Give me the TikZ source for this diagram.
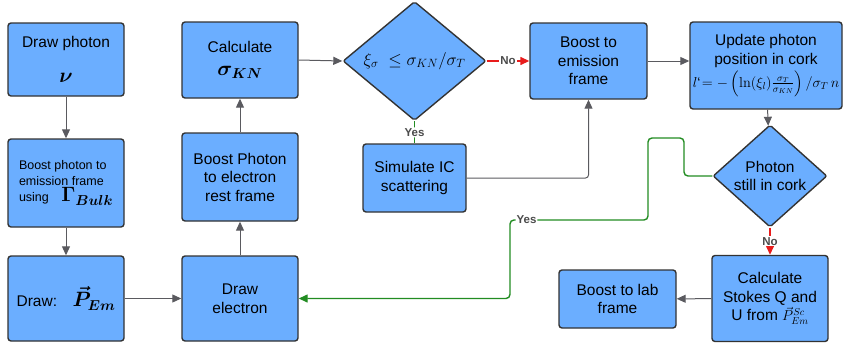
\documentclass[tikz,border=0pt]{standalone}
\usepackage{amsmath}
\usepackage[no-math]{fontspec}
\setmainfont{Liberation Sans}
\usetikzlibrary{shapes.geometric,arrows.meta}
\definecolor{boxblue}{RGB}{107,174,255}
\definecolor{linegray}{RGB}{90,90,95}
\definecolor{nored}{RGB}{232,28,28}
\definecolor{yesgreen}{RGB}{34,140,34}

\begin{document}
\begin{tikzpicture}[x=1pt,y=-1pt,
  box/.style={draw=black!80, fill=boxblue, rounded corners=3pt, line width=1.4pt,
    align=center, minimum width=116pt, inner sep=2pt,
    font=\fontsize{15.5}{18.5}\selectfont},
  decision/.style={diamond, draw=black!80, fill=boxblue, line width=1.4pt,
    align=center, inner sep=0pt, rounded corners=2pt,
    font=\fontsize{15.5}{18.5}\selectfont},
  link/.style={draw=linegray, line width=1pt, -{Triangle[length=9pt,width=8pt]}},
  nolink/.style={link, draw=nored, line width=1.4pt},
  yeslink/.style={link, draw=yesgreen, line width=1.4pt, rounded corners=4pt},
  lbl/.style={fill=white, text=black!70, inner sep=1pt,
    font=\bfseries\fontsize{11.5}{12}\selectfont}]
  \useasboundingbox (0,0) rectangle (844,343);

  % photon and electron
  \node[box, minimum height=73pt] (photon) at (66,59.5)
    {Draw photon\\[16pt]{\fontsize{22}{24}\selectfont$\boldsymbol{\nu}$}};
  \node[box, minimum height=88pt, align=left, font=\fontsize{12.5}{16}\selectfont] (bulk) at (66,183)
    {Boost photon to\\emission frame\\using\quad{\fontsize{20}{22}\selectfont$\boldsymbol{\Gamma_{Bulk}}$}};
  \node[box, minimum height=85pt] (pem) at (66,298.5)
    {Draw:\quad{\fontsize{20}{22}\selectfont$\boldsymbol{\vec{P}_{Em}}$}};
  \node[box, minimum height=76pt] (sigma) at (240,60)
    {Calculate\\[4pt]{\fontsize{21}{24}\selectfont$\boldsymbol{\sigma_{KN}}$}};
  \node[box, minimum height=88pt] (rest) at (240,177)
    {Boost Photon\\to electron\\rest frame};
  \node[box, minimum height=85pt] (electron) at (240,298.5)
    {Draw\\electron};

  % scattering test
  \node[decision, minimum width=143pt, minimum height=114pt] (test) at (414.5,61)
    {\fontsize{18}{20}\selectfont$\xi_\sigma\ \le \sigma_{KN}/\sigma_T$};
  \node[box, minimum width=103pt, minimum height=68pt] (ic) at (414.5,178)
    {Simulate IC\\scattering};
  \node[box, minimum width=117pt, minimum height=76pt] (emit) at (588.5,61)
    {Boost to\\emission\\frame};

  % propagation in the cork
  \node[box, minimum width=152pt, minimum height=87pt] (update) at (766,65.5)
    {Update photon\\position in cork\\[2pt]
     {\fontsize{14}{16}\selectfont$l\mbox{`}\!=-\left(\ln(\xi_l)\frac{\sigma_T}{\sigma_{KN}}\right)/\sigma_T\, n$}};
  \node[decision, minimum width=114pt, minimum height=85pt] (cork) at (770,176)
    {Photon\\still in cork};
  \node[box, minimum height=86pt] (stokes) at (770,298.5)
    {Calculate\\Stokes Q and\\U from {\fontsize{14}{16}\selectfont$\vec{P}^{Sc}_{Em}$}};
  \node[box, minimum width=117pt, minimum height=58pt] (lab) at (617.5,299)
    {Boost to lab\\frame};

  \coordinate (y1) at (684,138);
  \coordinate (y2) at (648,220);
  \coordinate (y3) at (510,298.5);

  \draw[link] (photon) -- (bulk);
  \draw[link] (bulk) -- (pem);
  \draw[link] (pem) -- (electron);
  \draw[link] (electron) -- (rest);
  \draw[link] (rest) -- (sigma);
  \draw[link] (sigma.east) -- (test.west);
  \draw[nolink] (test.east) -- node[lbl] {No} (emit.west);
  \draw[yeslink, -] (test.south) -- node[lbl] {Yes} (ic.north);
  \draw[link, rounded corners=3pt] (ic.east) -| (emit.south);
  \draw[link] (emit.east) -- (emit.east -| update.west);
  \draw[link] (update) -- (cork);
  \draw[nolink] (cork.south) -- node[lbl] {No} (stokes.north);
  \draw[link] (stokes) -- (lab);
  \draw[yeslink] (cork.west) -| (y1) -| (y2) -| node[lbl, pos=0.44] {Yes} (y3) -- (electron.east);
\end{tikzpicture}
\end{document}
